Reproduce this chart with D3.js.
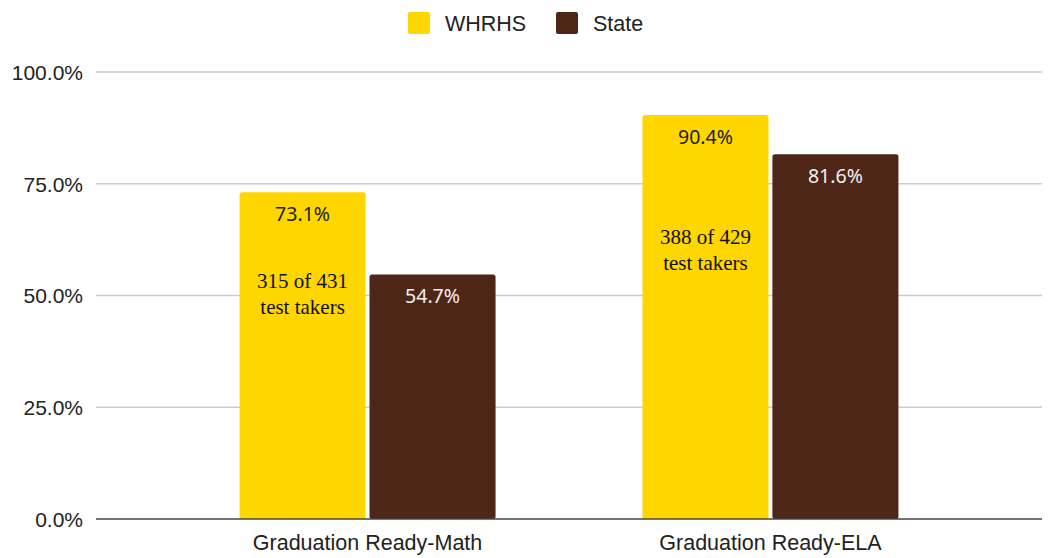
<!DOCTYPE html>
<meta charset="utf-8">
<style>
  body { margin: 0; background: #fff; }
  svg { display: block; }
  .grid line { stroke: #cccccc; stroke-width: 1.3px; }
  .axis text { font-family: "Liberation Sans", Arial, sans-serif; fill: #222; }
</style>
<body>
<svg width="1048" height="558"></svg>
<script src="https://d3js.org/d3.v7.min.js"></script>
<script>
  var categories = ["Graduation Ready-Math", "Graduation Ready-ELA"];
  var series = ["WHRHS", "State"];
  var whrhs = [73.1, 90.4];
  var state = [54.7, 81.6];
  var yTicks = [0, 25, 50, 75, 100];
  var notes = [["315 of 431", "test takers"], ["388 of 429", "test takers"]];
  var noteLevel = [50.3, 60.2];
  var colors = ["#ffd600", "#4e2617"];

  var svg = d3.select("svg"),
    plotLeft = 96, plotRight = 1042, plotTop = 72, plotBottom = 519;

  var y = d3.scaleLinear().domain([0, 100]).range([plotBottom, plotTop]);
  var x0 = d3.scaleBand().domain(categories).range([plotLeft, plotRight])
    .paddingInner(0).paddingOuter(0.174);
  var groupW = 256;
  var x1 = d3.scaleBand().domain(series)
    .range([(x0.bandwidth() - groupW) / 2, (x0.bandwidth() + groupW) / 2])
    .paddingInner(0.03);
  var color = d3.scaleOrdinal().domain(series).range(colors);

  // gridlines
  svg.append("g").attr("class", "grid")
    .selectAll("line").data(yTicks.slice(1)).enter().append("line")
    .attr("x1", plotLeft).attr("x2", plotRight)
    .attr("y1", function(d) { return y(d); })
    .attr("y2", function(d) { return y(d); });

  // y axis
  var yAxis = svg.append("g").attr("class", "axis")
    .attr("transform", "translate(" + (plotLeft - 13) + ",0)")
    .call(d3.axisLeft(y).tickValues(yTicks).tickSize(0).tickPadding(0)
      .tickFormat(function(d) { return d.toFixed(1) + "%"; }));
  yAxis.select(".domain").remove();
  yAxis.selectAll("text").attr("font-size", 21).attr("dy", "0.35em");

  var rows = categories.map(function(c, i) {
    return { cat: c, vals: [whrhs[i], state[i]], note: notes[i], level: noteLevel[i] };
  });

  var group = svg.selectAll(".group").data(rows).enter().append("g")
    .attr("class", "group")
    .attr("transform", function(d) { return "translate(" + x0(d.cat) + ",0)"; });

  var bars = group.selectAll(".bar")
    .data(function(d) { return d.vals.map(function(v, j) { return { s: series[j], v: v }; }); })
    .enter();

  bars.append("rect")
    .attr("x", function(d) { return x1(d.s); })
    .attr("width", x1.bandwidth())
    .attr("y", function(d) { return y(d.v); })
    .attr("height", function(d) { return y(0) - y(d.v); })
    .attr("rx", 2.5)
    .attr("fill", function(d) { return color(d.s); });

  bars.append("text")
    .attr("x", function(d) { return x1(d.s) + x1.bandwidth() / 2; })
    .attr("y", function(d) { return y(d.v) + 29; })
    .attr("text-anchor", "middle")
    .attr("font-family", "'Noto Sans', 'Open Sans', sans-serif")
    .attr("font-size", 19.5)
    .attr("fill", function(d) { return d.s === "State" ? "#f4f0ee" : "#222"; })
    .text(function(d) { return d.v.toFixed(1) + "%"; });

  // annotations inside the WHRHS bars
  group.each(function(d) {
    var t = d3.select(this).append("text")
      .attr("text-anchor", "middle")
      .attr("font-family", "'Liberation Serif', 'DejaVu Serif', serif")
      .attr("font-size", 21)
      .attr("fill", "#111");
    d.note.forEach(function(line, k) {
      t.append("tspan")
        .attr("x", x1("WHRHS") + x1.bandwidth() / 2)
        .attr("y", y(d.level) - 6 + k * 26)
        .text(line);
    });
  });

  // baseline
  svg.append("line")
    .attr("x1", plotLeft).attr("x2", plotRight)
    .attr("y1", plotBottom).attr("y2", plotBottom)
    .attr("stroke", "#444").attr("stroke-width", 1.5);

  // x axis labels
  var xAxis = svg.append("g").attr("class", "axis")
    .attr("transform", "translate(0," + plotBottom + ")")
    .call(d3.axisBottom(x0).tickSize(0).tickPadding(0));
  xAxis.select(".domain").remove();
  xAxis.selectAll("text").attr("font-size", 21.5).attr("dy", "1.45em");

  // legend
  var legX = [408, 556];
  var legend = svg.selectAll(".legend").data(series).enter().append("g")
    .attr("transform", function(d, i) { return "translate(" + legX[i] + ",12)"; });
  legend.append("rect")
    .attr("width", 22).attr("height", 22).attr("rx", 2)
    .attr("fill", function(d) { return color(d); });
  legend.append("text")
    .attr("x", 37).attr("y", 18.5)
    .attr("font-family", "'Liberation Sans', Arial, sans-serif")
    .attr("font-size", 21.5).attr("fill", "#222")
    .text(function(d) { return d; });
</script>
</body>
